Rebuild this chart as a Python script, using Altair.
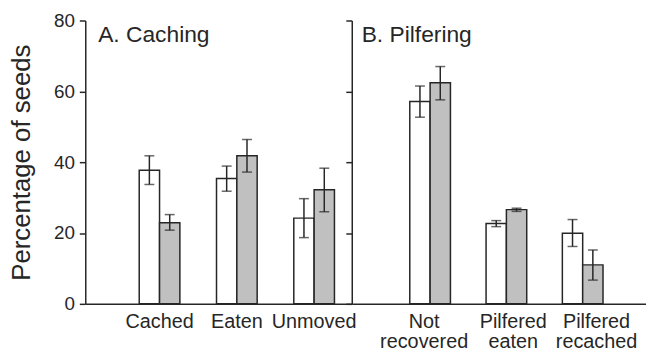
import altair as alt
import pandas as pd

# ---- data ----
cache_cats = ["Cached", "Eaten", "Unmoved"]
pilfer_cats = ["Not recovered", "Pilfered eaten", "Pilfered recached"]
series = ["open", "filled"]

cache_open = [37.7, 35.4, 24.2]
cache_open_lo = [33.7, 31.8, 18.7]
cache_open_hi = [41.8, 38.9, 29.7]
cache_fill = [22.9, 41.8, 32.2]
cache_fill_lo = [20.8, 37.2, 26.0]
cache_fill_hi = [25.2, 46.4, 38.3]

pilfer_open = [57.1, 22.7, 19.9]
pilfer_open_lo = [52.7, 21.8, 16.2]
pilfer_open_hi = [61.5, 23.5, 23.8]
pilfer_fill = [62.4, 26.6, 11.0]
pilfer_fill_lo = [57.6, 26.1, 6.7]
pilfer_fill_hi = [67.0, 27.0, 15.2]

panel_titles = ["A. Caching", "B. Pilfering"]
y_title = "Percentage of seeds"

FONT = "Liberation Sans"
INK = "#262626"
GRAY = "#c0c0c0"


def frame(cats, op, opl, oph, fi, fil, fih):
    rows = []
    for i, c in enumerate(cats):
        rows.append(dict(cat=c, s=series[0], v=op[i], lo=opl[i], hi=oph[i]))
        rows.append(dict(cat=c, s=series[1], v=fi[i], lo=fil[i], hi=fih[i]))
    return pd.DataFrame(rows)


def panel(df, cats, title, width, pad_in, pad_out, align, left, title_x):
    xscale = alt.Scale(domain=cats, paddingInner=pad_in, paddingOuter=pad_out, align=align)
    yscale = alt.Scale(domain=[0, 80])
    if left:
        yaxis = alt.Axis(values=[0, 20, 40, 60, 80], title=y_title, tickSize=6, labelPadding=5,
                         labelFontSize=19, titleFontSize=26, titleFontWeight="normal",
                         titlePadding=19, grid=False, domainColor=INK, tickColor=INK,
                         labelColor=INK, titleColor=INK, labelFont=FONT, titleFont=FONT,
                         domainWidth=1.5, tickWidth=1.5)
        xaxis = alt.Axis(title=None, ticks=False, labelAngle=0, labelFontSize=20,
                         labelPadding=8, labelFont=FONT, labelColor=INK, domainColor=INK,
                         domainWidth=1.5)
    else:
        yaxis = alt.Axis(values=[0, 20, 40, 60, 80], title=None, labels=False, tickSize=6,
                         grid=False, domainColor=INK, tickColor=INK, domainWidth=1.5,
                         tickWidth=1.5)
        xaxis = alt.Axis(title=None, ticks=False, labelAngle=0, labelFontSize=20,
                         labelPadding=8, labelFont=FONT, labelColor=INK, domainColor=INK,
                         domainWidth=1.5, labelExpr="split(datum.label, ' ')",
                         labelLineHeight=20,
                         labelOffset={
                             "condition": [
                                 {"test": "datum.value == 'Not recovered'", "value": -6},
                                 {"test": "datum.value == 'Pilfered recached'", "value": 14},
                             ],
                             "value": 7,
                         })
    base = alt.Chart(df).encode(
        x=alt.X("cat:N", scale=xscale, axis=xaxis, sort=cats),
        xOffset=alt.XOffset("s:N", sort=series, scale=alt.Scale(domain=series, paddingInner=0)),
    )
    bars = base.mark_bar(stroke=INK, strokeWidth=1.5).encode(
        y=alt.Y("v:Q", scale=yscale, axis=yaxis),
        fill=alt.Fill("s:N", scale=alt.Scale(domain=series, range=["white", GRAY]), legend=None),
    )
    stems = base.mark_rule(color=INK, strokeWidth=1.5).encode(y="lo:Q", y2="hi:Q")
    cap_lo = base.mark_tick(color=INK, thickness=1.5, size=10, orient="horizontal").encode(y="lo:Q")
    cap_hi = base.mark_tick(color=INK, thickness=1.5, size=10, orient="horizontal").encode(y="hi:Q")
    label = alt.Chart(pd.DataFrame({"t": [title]})).mark_text(
        align="left", baseline="alphabetic", fontSize=23, font=FONT, color=INK
    ).encode(text="t:N", x=alt.value(title_x), y=alt.value(22))
    return alt.layer(bars, stems, cap_lo, cap_hi, label).properties(width=width, height=286)


df_a = frame(cache_cats, cache_open, cache_open_lo, cache_open_hi,
             cache_fill, cache_fill_lo, cache_fill_hi)
df_b = frame(pilfer_cats, pilfer_open, pilfer_open_lo, pilfer_open_hi,
             pilfer_fill, pilfer_fill_lo, pilfer_fill_hi)

left = panel(df_a, cache_cats, panel_titles[0], 269, 0.474, 0.461, 0.757, True, 13)
right = panel(df_b, pilfer_cats, panel_titles[1], 297, 0.468, 0.6625, 0.574, False, 10)

chart = alt.hconcat(left, right, spacing=0, bounds="flush").properties(
    padding={"left": 0, "top": 2, "right": 0, "bottom": 0}
).configure(background="white").configure_view(stroke="transparent", strokeWidth=0)

chart.save("out.html", embed_options={"renderer": "svg", "actions": False})
